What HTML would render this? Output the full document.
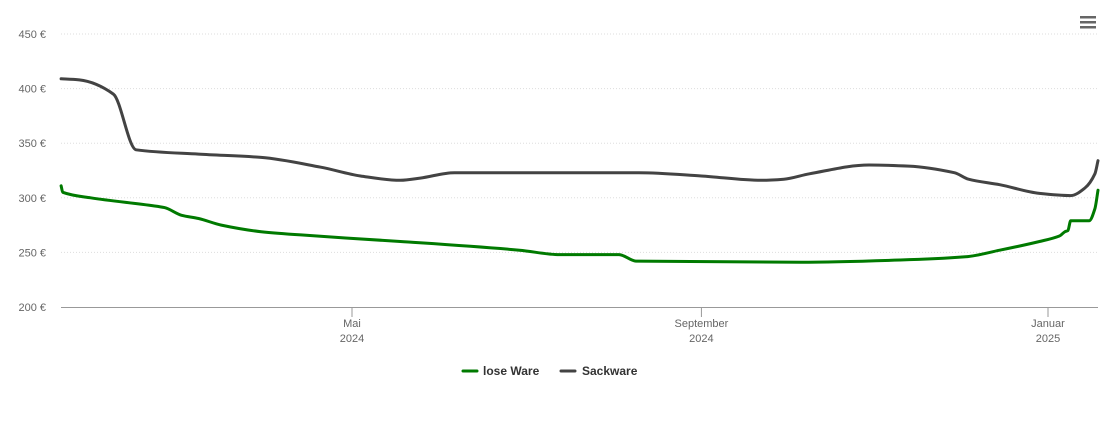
<!DOCTYPE html>
<html><head><meta charset="utf-8"><style>
body{margin:0;background:#fff;font-family:"Liberation Sans",sans-serif;}
svg text{font-family:"Liberation Sans",sans-serif;}
</style></head><body>
<svg id="chart" width="1110" height="422">
<g id="grid"></g>
<g id="axes"></g>
<g id="series"></g>
<g>
<rect x="1080" y="16" width="16" height="2.5" fill="#666"/><rect x="1080" y="21" width="16" height="2.5" fill="#666"/><rect x="1080" y="26" width="16" height="2.5" fill="#666"/>
</g>
<g font-size="12" font-weight="bold" fill="#333">
<g><line x1="463" y1="371" x2="477" y2="371" stroke="#007a00" stroke-width="3" stroke-linecap="round"/><text x="483" y="375">lose Ware</text></g>
<g><line x1="561" y1="371" x2="575" y2="371" stroke="#434343" stroke-width="3" stroke-linecap="round"/><text x="582" y="375">Sackware</text></g>
</g>
</svg>
<script>
// day offsets relative to 1 May 2024
const yTicks=[200,250,300,350,400,450];
const xTickDays=[0,123,245];
const xTickLabels=[["Mai","2024"],["September","2024"],["Januar","2025"]];
const looseDays=[-102.4,-101.8,-92,-71,-66,-60,-54,-46,-32,-18,17,59,73,94,100,158,193,216,228,242,249,251,252,253,259.5,261.5,262.6];
const looseVals=[311,305,300,293,291,284,281,275,269,266,260,252,248,248,242,241,243,246,252,260,265,269,270,279,279,290,307];
const sackDays=[-102.4,-96,-84,-76,-54,-32,-11,3,17,24,36,101,123,144,152,161,182,196,212,217,228,242,253,258,261.5,262.6];
const sackVals=[409,408,395,344,340,337,328,320,316,318,323,323,320,316,317,322,330,329,323,317,312,304,302,309,322,334];
const NS="http://www.w3.org/2000/svg";
const x0=61,x1=1098,yTop=34,yBot=307;
const pxPerDay=(1048-352)/245;
const X=d=>352+d*pxPerDay;
const Y=v=>yBot-(v-200)/250*(yBot-yTop);
function mk(t,a,p){const e=document.createElementNS(NS,t);for(const k in a)e.setAttribute(k,a[k]);p.appendChild(e);return e;}
const grid=document.getElementById('grid'),axes=document.getElementById('axes'),ser=document.getElementById('series');
yTicks.forEach(v=>{
 if(v>200){const l=mk('line',{x1:x0,x2:x1,y1:Y(v),y2:Y(v),stroke:'#ddd','stroke-dasharray':'1,2'},grid);
 
 }
 const t=mk('text',{x:46,y:Y(v)+4,'text-anchor':'end','font-size':11,fill:'#666'},axes);t.textContent=v+' €';
 
 
});
const ax=mk('line',{x1:x0,x2:x1,y1:yBot+0.5,y2:yBot+0.5,stroke:'#999'},axes);


xTickDays.forEach((d,i)=>{
 mk('line',{x1:X(d),x2:X(d),y1:yBot,y2:yBot+10,stroke:'#999'},axes);
 xTickLabels[i].forEach((s,j)=>{const t=mk('text',{x:X(d),y:327+j*15,'text-anchor':'middle','font-size':11,fill:'#666'},axes);t.textContent=s;
 
 });
});
function path(ds,vs,c,name){
 const xs=ds.map(X),ys=vs.map(Y),n=xs.length;
 const dl=[],m=[];
 for(let i=0;i<n-1;i++)dl.push((ys[i+1]-ys[i])/Math.max(xs[i+1]-xs[i],1e-6));
 for(let i=0;i<n;i++){
  if(i==0)m.push(dl[0]);else if(i==n-1)m.push(dl[n-2]);
  else m.push(dl[i-1]*dl[i]<=0?0:2/(1/dl[i-1]+1/dl[i]));
 }
 let d='M'+xs[0].toFixed(1)+','+ys[0].toFixed(1);
 for(let i=0;i<n-1;i++){
  const h=(xs[i+1]-xs[i])/3;
  d+='C'+(xs[i]+h).toFixed(1)+','+(ys[i]+m[i]*h).toFixed(1)+' '+(xs[i+1]-h).toFixed(1)+','+(ys[i+1]-m[i+1]*h).toFixed(1)+' '+xs[i+1].toFixed(1)+','+ys[i+1].toFixed(1);
 }
 const p=mk('path',{d:d,fill:'none',stroke:c,'stroke-width':3,'stroke-linejoin':'round','stroke-linecap':'round'},ser);
 
 
}
path(sackDays,sackVals,'#434343','sackware-line');
path(looseDays,looseVals,'#007a00','lose-ware-line');
</script>
</body></html>
